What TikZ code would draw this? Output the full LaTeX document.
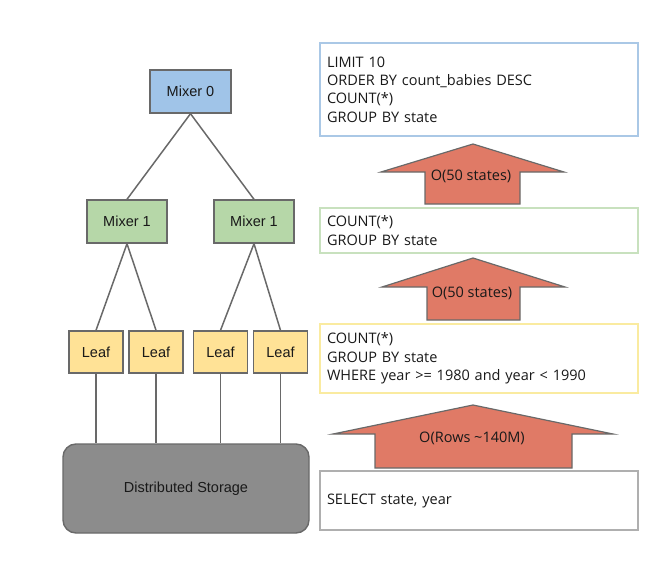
\documentclass[tikz,border=0pt]{standalone}
\usepackage{fontspec}
\setmainfont{Open Sans}
\newfontfamily\arialf{Liberation Sans}
\definecolor{edgegray}{RGB}{105,105,105}
\definecolor{mixblue}{RGB}{160,196,232}
\definecolor{mixgreen}{RGB}{182,215,168}
\definecolor{leafyellow}{RGB}{255,226,150}
\definecolor{storegray}{RGB}{140,140,140}
\definecolor{arrowfill}{RGB}{224,122,102}
\definecolor{bdblue}{RGB}{170,200,230}
\definecolor{bdgreen}{RGB}{200,225,190}
\definecolor{bdyellow}{RGB}{250,235,160}
\definecolor{bdgray}{RGB}{175,175,175}
\begin{document}
\begin{tikzpicture}[x=1pt,y=-1pt,
  treebox/.style={draw=edgegray, line width=1.4pt, inner sep=0pt, font=\arialf\fontsize{14.5}{16}\selectfont, text=black!90},
  mixzero/.style={treebox, fill=mixblue, minimum width=81pt, minimum height=43pt},
  mixone/.style={treebox, fill=mixgreen, minimum width=80pt, minimum height=43pt},
  leafbox/.style={treebox, fill=leafyellow, minimum width=54pt, minimum height=42pt},
  storebox/.style={treebox, fill=storegray, rounded corners=13pt, minimum width=246pt, minimum height=89pt},
  link/.style={draw=edgegray, line width=1.5pt},
  query/.style={line width=1.2pt, inner xsep=7pt, inner ysep=0pt, text width=304pt, align=left,
    font=\fontsize{14.5}{18.3}\selectfont, text=black!90},
  bigarrow/.style={fill=arrowfill, draw=edgegray, line width=1.2pt, line join=miter},
  arrowtext/.style={font=\fontsize{14.5}{16}\selectfont, text=black!90, inner sep=0pt}
]
\useasboundingbox (0,0) rectangle (671,572);

% tree
\node[mixzero] (m0) at (190.5,91.5) {Mixer 0};
\node[mixone] (m1a) at (127,221.5) {Mixer 1};
\node[mixone] (m1b) at (254,221.5) {Mixer 1};
\node[leafbox] (l1) at (96,352) {Leaf};
\node[leafbox] (l2) at (156,352) {Leaf};
\node[leafbox] (l3) at (220.5,352) {Leaf};
\node[leafbox] (l4) at (280.5,352) {Leaf};
\node[storebox] (st) at (186,488.5) {Distributed Storage};

\draw[link] (m0.south) -- (m1a.north);
\draw[link] (m0.south) -- (m1b.north);
\draw[link] (m1a.south) -- (l1.north);
\draw[link] (m1a.south) -- (l2.north);
\draw[link] (m1b.south) -- (l3.north);
\draw[link] (m1b.south) -- (l4.north);
\foreach \l in {l1,l2,l3,l4}
  \draw[link] (\l.south) -- (\l.south |- st.north);

% query boxes
\node[query, draw=bdblue, minimum height=93pt] (q1) at (479,89.5)
  {LIMIT 10\\ORDER BY count\_babies DESC\\COUNT(*)\\GROUP BY state};
\node[query, draw=bdgreen, minimum height=45pt] (q2) at (479,230.5)
  {COUNT(*)\\GROUP BY state};
\node[query, draw=bdyellow, minimum height=69pt] (q3) at (479,358.5)
  {COUNT(*)\\GROUP BY state\\WHERE year >= 1980 and year < 1990};
\node[query, draw=bdgray, minimum height=59pt] (q4) at (479,500.5)
  {SELECT state, year};

% block arrows
\draw[bigarrow] (473,144) -- (564,172) -- (520,172) -- (520,204) -- (425,204) -- (425,172) -- (381,172) -- cycle;
\node[arrowtext] (a1) at (471,176) {O(50 states)};
\draw[bigarrow] (473,258) -- (565,287) -- (520,287) -- (520,320) -- (427,320) -- (427,287) -- (382,287) -- cycle;
\node[arrowtext] (a2) at (472,293) {O(50 states)};
\draw[bigarrow] (473,405) -- (613,434) -- (572,434) -- (572,468) -- (375,468) -- (375,434) -- (333,434) -- cycle;
\node[arrowtext] (a3) at (472,438) {O(Rows \textasciitilde140M)};
\end{tikzpicture}
\end{document}
